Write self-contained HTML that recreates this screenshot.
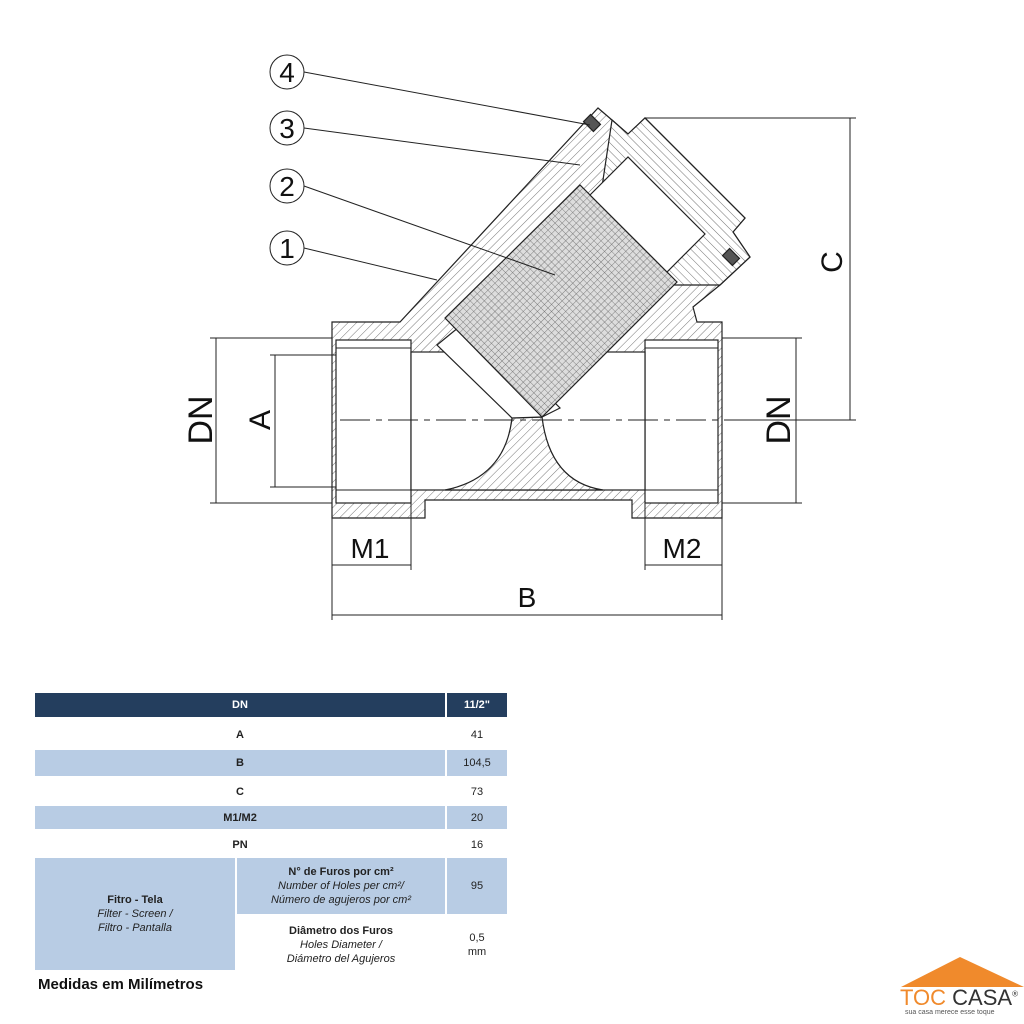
<!DOCTYPE html>
<html><head><meta charset="utf-8">
<style>
html,body{margin:0;padding:0;background:#fff;width:1024px;height:1024px;overflow:hidden;font-family:"Liberation Sans",sans-serif}
.t{position:absolute;left:35px;top:693px;width:472px}
.c{position:absolute;display:flex;flex-direction:column;align-items:center;justify-content:center;text-align:center;font-size:11px;color:#222;line-height:14px}
.b{font-weight:bold}
.i{font-style:italic}
.dk{background:#243e5e;color:#fff;font-weight:bold}
.bl{background:#b8cce4}
</style></head><body>
<svg width="1024" height="690" style="position:absolute;left:0;top:0" xmlns="http://www.w3.org/2000/svg">
<defs>
<pattern id="h" width="6" height="6" patternUnits="userSpaceOnUse" patternTransform="rotate(45)">
<rect width="6" height="6" fill="#fff"/><line x1="0" y1="0" x2="0" y2="6" stroke="#777" stroke-width="1"/></pattern>
<pattern id="h2" width="6" height="6" patternUnits="userSpaceOnUse" patternTransform="rotate(-45)">
<rect width="6" height="6" fill="#fff"/><line x1="0" y1="0" x2="0" y2="6" stroke="#777" stroke-width="1"/></pattern>
<pattern id="g" width="5" height="5" patternUnits="userSpaceOnUse" patternTransform="rotate(45)">
<rect width="5" height="5" fill="#ddd"/><path d="M0 0V5M0 0H5" stroke="#666" stroke-width="0.8"/></pattern>
</defs>
<g stroke="#222" stroke-width="1.2">
<polygon fill="url(#h)" points="332,322 400,322 598,108 612,120 628,134 645,118 745,218 733,232 750,257 720,285 693,307 697,322 722,322 722,518 632,518 632,500 425,500 425,518 332,518"/>
<polygon fill="url(#h2)" points="612,120 628,134 645,118 745,218 733,232 750,257 720,285 665,285 600,200"/>
<rect x="336" y="340" width="75" height="163" fill="#fff"/>
<rect x="645" y="340" width="73" height="163" fill="#fff"/>
<rect x="411" y="352" width="234" height="138" fill="#fff"/>
<path d="M445,490 Q505,478 512,418 L542,417 Q550,482 603,490 Z" fill="url(#h)"/>
<polygon fill="#fff" points="437,345 470,318 560,408 542,417 512,418"/>
<polygon fill="url(#g)" points="445,318 580,185 677,282 542,417"/>
<polygon fill="#fff" points="590,195 628,157 705,234 667,272"/>
<rect x="585" y="118" width="14" height="10" fill="#555" transform="rotate(45 592 123)"/>
<rect x="724" y="252" width="14" height="10" fill="#555" transform="rotate(45 731 257)"/>
</g>
<g stroke="#222" stroke-width="1" fill="none">
<line x1="336" y1="348" x2="411" y2="348"/><line x1="336" y1="490" x2="411" y2="490"/>
<line x1="645" y1="348" x2="718" y2="348"/><line x1="645" y1="490" x2="718" y2="490"/>
<line x1="340" y1="420" x2="745" y2="420" stroke-dasharray="30,6,6,6"/>
<!-- leaders -->
<line x1="304" y1="72" x2="590" y2="125"/>
<line x1="304" y1="128" x2="580" y2="165"/>
<line x1="304" y1="186" x2="555" y2="275"/>
<line x1="304" y1="248" x2="437" y2="280"/>
<!-- dims -->
<line x1="210" y1="338" x2="332" y2="338"/><line x1="210" y1="503" x2="332" y2="503"/>
<line x1="216" y1="338" x2="216" y2="503"/>
<line x1="270" y1="355" x2="336" y2="355"/><line x1="270" y1="487" x2="336" y2="487"/>
<line x1="275" y1="355" x2="275" y2="487"/>
<line x1="722" y1="338" x2="802" y2="338"/><line x1="722" y1="503" x2="802" y2="503"/>
<line x1="796" y1="338" x2="796" y2="503"/>
<line x1="645" y1="118" x2="856" y2="118"/><line x1="745" y1="420" x2="856" y2="420"/>
<line x1="850" y1="118" x2="850" y2="420"/>
<line x1="332" y1="518" x2="332" y2="620"/><line x1="411" y1="503" x2="411" y2="570"/>
<line x1="645" y1="503" x2="645" y2="570"/><line x1="722" y1="518" x2="722" y2="620"/>
<line x1="332" y1="565" x2="411" y2="565"/><line x1="645" y1="565" x2="722" y2="565"/>
<line x1="332" y1="615" x2="722" y2="615"/>
<circle cx="287" cy="72" r="17"/><circle cx="287" cy="128" r="17"/>
<circle cx="287" cy="186" r="17"/><circle cx="287" cy="248" r="17"/>
</g>
<g font-family="Liberation Sans" font-size="28" fill="#111" text-anchor="middle">
<text x="287" y="82">4</text><text x="287" y="138">3</text><text x="287" y="196">2</text><text x="287" y="258">1</text>
<text x="370" y="558">M1</text><text x="682" y="558">M2</text><text x="527" y="607">B</text>
<text transform="translate(212,420) rotate(-90)" font-size="34">DN</text>
<text transform="translate(270,420) rotate(-90)" font-size="30">A</text>
<text transform="translate(790,420) rotate(-90)" font-size="34">DN</text>
<text transform="translate(842,262) rotate(-90)" font-size="30">C</text>
</g>
</svg>
<div class="c dk" style="left:35px;top:693px;width:410px;height:24px">DN</div>
<div class="c dk" style="left:447px;top:693px;width:60px;height:24px">11/2"</div>
<div class="c b" style="left:35px;top:722px;width:410px;height:26px">A</div>
<div class="c" style="left:447px;top:722px;width:60px;height:26px">41</div>
<div class="c b bl" style="left:35px;top:750px;width:410px;height:26px">B</div>
<div class="c bl" style="left:447px;top:750px;width:60px;height:26px">104,5</div>
<div class="c b" style="left:35px;top:779px;width:410px;height:26px">C</div>
<div class="c" style="left:447px;top:779px;width:60px;height:26px">73</div>
<div class="c b bl" style="left:35px;top:806px;width:410px;height:23px">M1/M2</div>
<div class="c bl" style="left:447px;top:806px;width:60px;height:23px">20</div>
<div class="c b" style="left:35px;top:832px;width:410px;height:25px">PN</div>
<div class="c" style="left:447px;top:832px;width:60px;height:25px">16</div>
<div class="c bl" style="left:35px;top:858px;width:200px;height:112px"><span class="b">Fitro - Tela</span><span class="i">Filter - Screen /</span><span class="i">Filtro - Pantalla</span></div>
<div class="c bl" style="left:237px;top:858px;width:208px;height:56px"><span class="b">N° de Furos por cm²</span><span class="i">Number of Holes per cm²/</span><span class="i">Número de agujeros por cm²</span></div>
<div class="c bl" style="left:447px;top:858px;width:60px;height:56px">95</div>
<div class="c" style="left:237px;top:918px;width:208px;height:54px"><span class="b">Diâmetro dos Furos</span><span class="i">Holes Diameter /</span><span class="i">Diámetro del Agujeros</span></div>
<div class="c" style="left:447px;top:918px;width:60px;height:54px">0,5<br>mm</div>
<div style="position:absolute;left:38px;top:976px;font-size:15px;font-weight:bold;color:#111">Medidas em Milímetros</div>
<svg width="130" height="34" style="position:absolute;left:898px;top:955px"><polygon points="3,32 62,2 126,32" fill="#f08a2c"/></svg>
<div style="position:absolute;left:900px;top:985px;font-size:22px;color:#f08a2c;letter-spacing:0px">TOC <span style="color:#333">CASA</span><sup style="font-size:8px;color:#333">®</sup></div>
<div style="position:absolute;left:905px;top:1009px;font-size:7px;color:#555">sua casa merece esse toque</div>
</body></html>
